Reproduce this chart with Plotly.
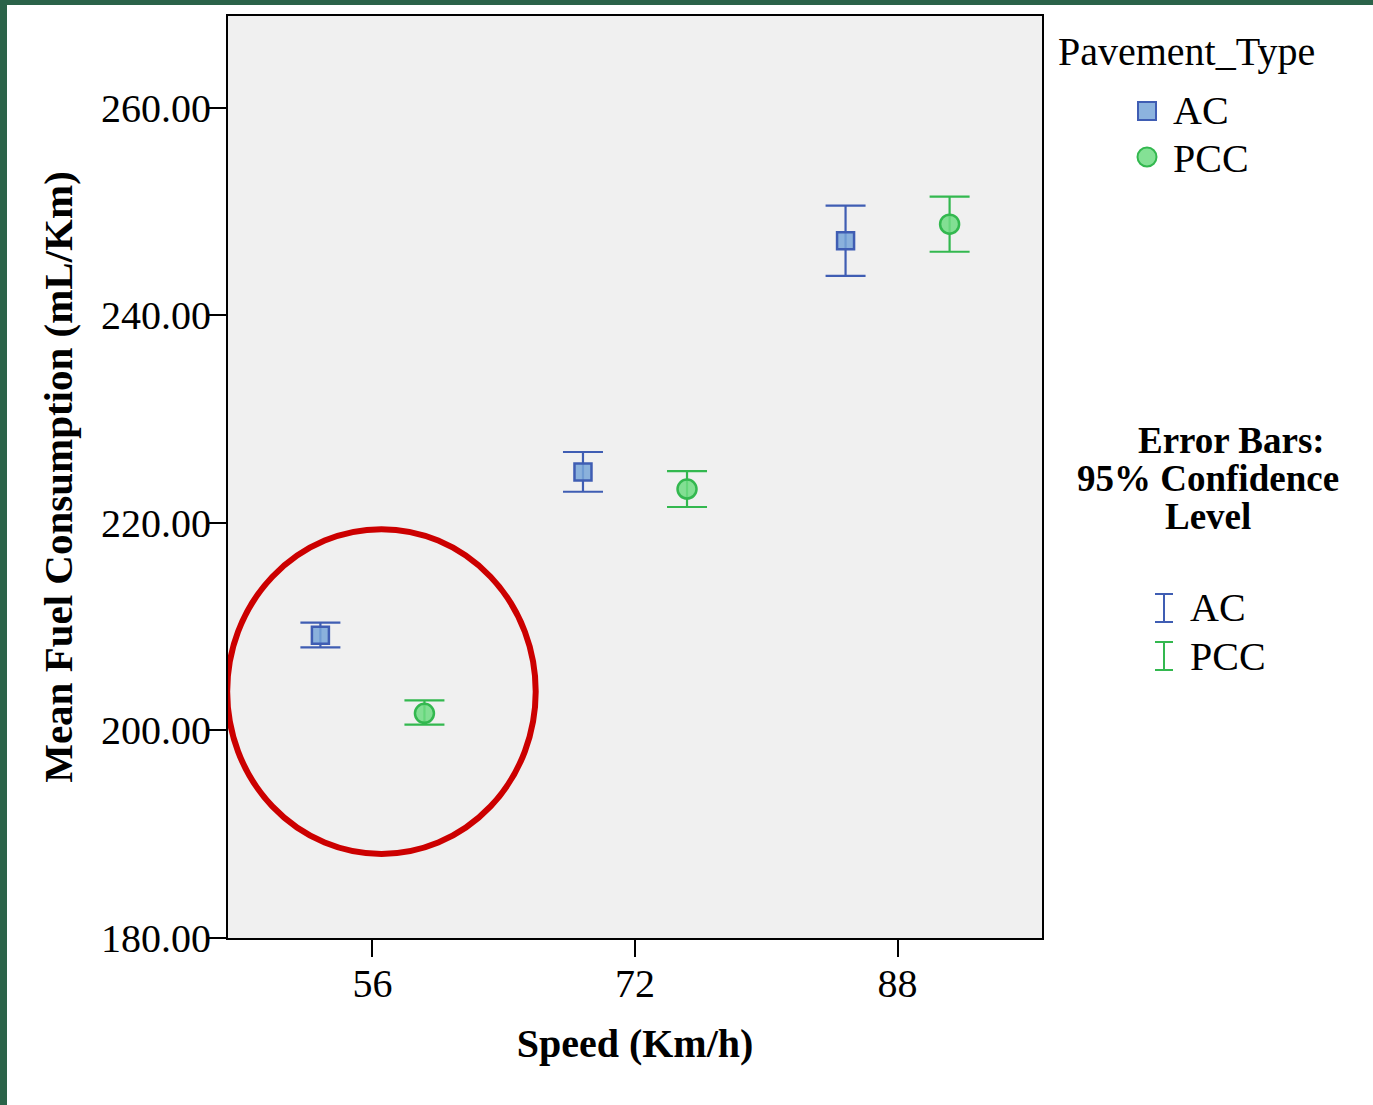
import plotly.graph_objects as go

# ---- data ----
speeds = [56, 72, 88]
ac_mean = [209.17, 224.91, 247.19]
ac_upper = [210.39, 226.84, 250.59]
ac_lower = [208.01, 223.01, 243.82]
pcc_mean = [201.65, 223.27, 248.80]
pcc_upper = [202.91, 225.00, 251.46]
pcc_lower = [200.57, 221.54, 246.14]
y_ticks = [180, 200, 220, 240, 260]
groups = ["AC", "PCC"]

# ---- styling ----
FONT = "Liberation Serif, Times New Roman, serif"
BLUE_LINE = "#3f5db3"
BLUE_FILL = "rgba(120,166,216,0.85)"
GREEN_LINE = "#33b84f"
GREEN_FILL = "rgba(110,220,130,0.85)"
CLUSTER_OFFSET = 3.17

W, H = 1373, 1105
L, R, T, B = 228, 1042, 16, 938


def px(x):
    return (x - L) / (R - L)


def py(y):
    return (B - y) / (B - T)


fig = go.Figure()

ac_x = [s - CLUSTER_OFFSET for s in speeds]
pcc_x = [s + CLUSTER_OFFSET for s in speeds]

fig.add_trace(go.Scatter(
    x=ac_x, y=ac_mean, mode="markers", name=groups[0],
    marker=dict(symbol="square", size=17, color=BLUE_FILL,
                line=dict(color=BLUE_LINE, width=2.5)),
    error_y=dict(type="data", symmetric=False,
                 array=[u - m for u, m in zip(ac_upper, ac_mean)],
                 arrayminus=[m - l for m, l in zip(ac_mean, ac_lower)],
                 color=BLUE_LINE, thickness=2.2, width=20),
))
fig.add_trace(go.Scatter(
    x=pcc_x, y=pcc_mean, mode="markers", name=groups[1],
    marker=dict(symbol="circle", size=19, color=GREEN_FILL,
                line=dict(color=GREEN_LINE, width=2.5)),
    error_y=dict(type="data", symmetric=False,
                 array=[u - m for u, m in zip(pcc_upper, pcc_mean)],
                 arrayminus=[m - l for m, l in zip(pcc_mean, pcc_lower)],
                 color=GREEN_LINE, thickness=2.2, width=20),
))

fig.update_layout(
    width=W, height=H,
    margin=dict(l=L, r=W - R, t=T, b=H - B),
    paper_bgcolor="white",
    plot_bgcolor="#f0f0f0",
    font=dict(family=FONT, size=40, color="black"),
    showlegend=False,
    xaxis=dict(range=[47.2, 96.8], tickvals=speeds, ticktext=[str(s) for s in speeds],
               showgrid=False, zeroline=False, showline=True, mirror=True,
               linecolor="black", linewidth=2, ticks="outside", ticklen=17,
               tickwidth=2, tickcolor="black", ticklabelstandoff=-8,
               tickfont=dict(family=FONT, size=40),
               title=dict(text="<b>Speed (Km/h)</b>", standoff=24,
                          font=dict(family=FONT, size=40))),
    yaxis=dict(range=[180, 268.86], tickvals=y_ticks,
               ticktext=[f"{v:.2f}" for v in y_ticks],
               showgrid=False, zeroline=False, showline=True, mirror=True,
               linecolor="black", linewidth=2, ticks="outside", ticklen=17,
               tickwidth=2, tickcolor="black", ticklabelstandoff=-10,
               tickfont=dict(family=FONT, size=40),
               title=dict(text="<b>Mean Fuel Consumption (mL/Km)</b>", standoff=16,
                          font=dict(family=FONT, size=41))),
)

# red highlight ellipse
fig.add_shape(type="circle", xref="x", yref="y",
              x0=47.15, x1=65.95, y0=188.1, y1=219.4,
              line=dict(color="#cc0000", width=6), layer="above")

# green frame strips (top and left)
fig.add_shape(type="rect", xref="paper", yref="paper",
              x0=px(0), x1=px(W), y0=py(5), y1=py(0),
              fillcolor="#2b6349", line=dict(width=0), layer="above")
fig.add_shape(type="rect", xref="paper", yref="paper",
              x0=px(0), x1=px(7), y0=py(H), y1=py(0),
              fillcolor="#2b6349", line=dict(width=0), layer="above")

# ---- legend: Pavement_Type ----
fig.add_annotation(text="Pavement_Type", xref="paper", yref="paper",
                   x=px(1056), y=py(52), xanchor="left", yanchor="middle",
                   showarrow=False, font=dict(family=FONT, size=40))
# square glyph
fig.add_shape(type="rect", xref="paper", yref="paper",
              x0=px(1138), x1=px(1156), y0=py(120), y1=py(102),
              fillcolor=BLUE_FILL, line=dict(color=BLUE_LINE, width=2))
# circle glyph
fig.add_shape(type="circle", xref="paper", yref="paper",
              x0=px(1137.5), x1=px(1156.5), y0=py(166.5), y1=py(147.5),
              fillcolor=GREEN_FILL, line=dict(color=GREEN_LINE, width=2))
for name, cy in zip(groups, [111, 158]):
    fig.add_annotation(text=name, xref="paper", yref="paper",
                       x=px(1171), y=py(cy), xanchor="left", yanchor="middle",
                       showarrow=False, font=dict(family=FONT, size=40))

# ---- legend: error bars ----
for txt, cx, cy in [("<b>Error Bars:</b>", 1231, 440),
                    ("<b>95% Confidence</b>", 1208, 478),
                    ("<b>Level</b>", 1208, 516)]:
    fig.add_annotation(text=txt, xref="paper", yref="paper",
                       x=px(cx), y=py(cy), xanchor="center", yanchor="middle",
                       showarrow=False, font=dict(family=FONT, size=37))

for name, color, cy in zip(groups, [BLUE_LINE, GREEN_LINE], [608, 656]):
    top, bot = cy - 14, cy + 14
    for (x0, y0, x1, y1) in [(1164, top, 1164, bot), (1155, top, 1173, top),
                             (1155, bot, 1173, bot)]:
        fig.add_shape(type="line", xref="paper", yref="paper",
                      x0=px(x0), y0=py(y0), x1=px(x1), y1=py(y1),
                      line=dict(color=color, width=2))
    fig.add_annotation(text=name, xref="paper", yref="paper",
                       x=px(1188), y=py(cy), xanchor="left", yanchor="middle",
                       showarrow=False, font=dict(family=FONT, size=40))

fig.write_html("out.html",
               config={"displayModeBar": False},
               post_script="document.body.style.margin='0';"
                           "document.body.style.overflow='hidden';")
